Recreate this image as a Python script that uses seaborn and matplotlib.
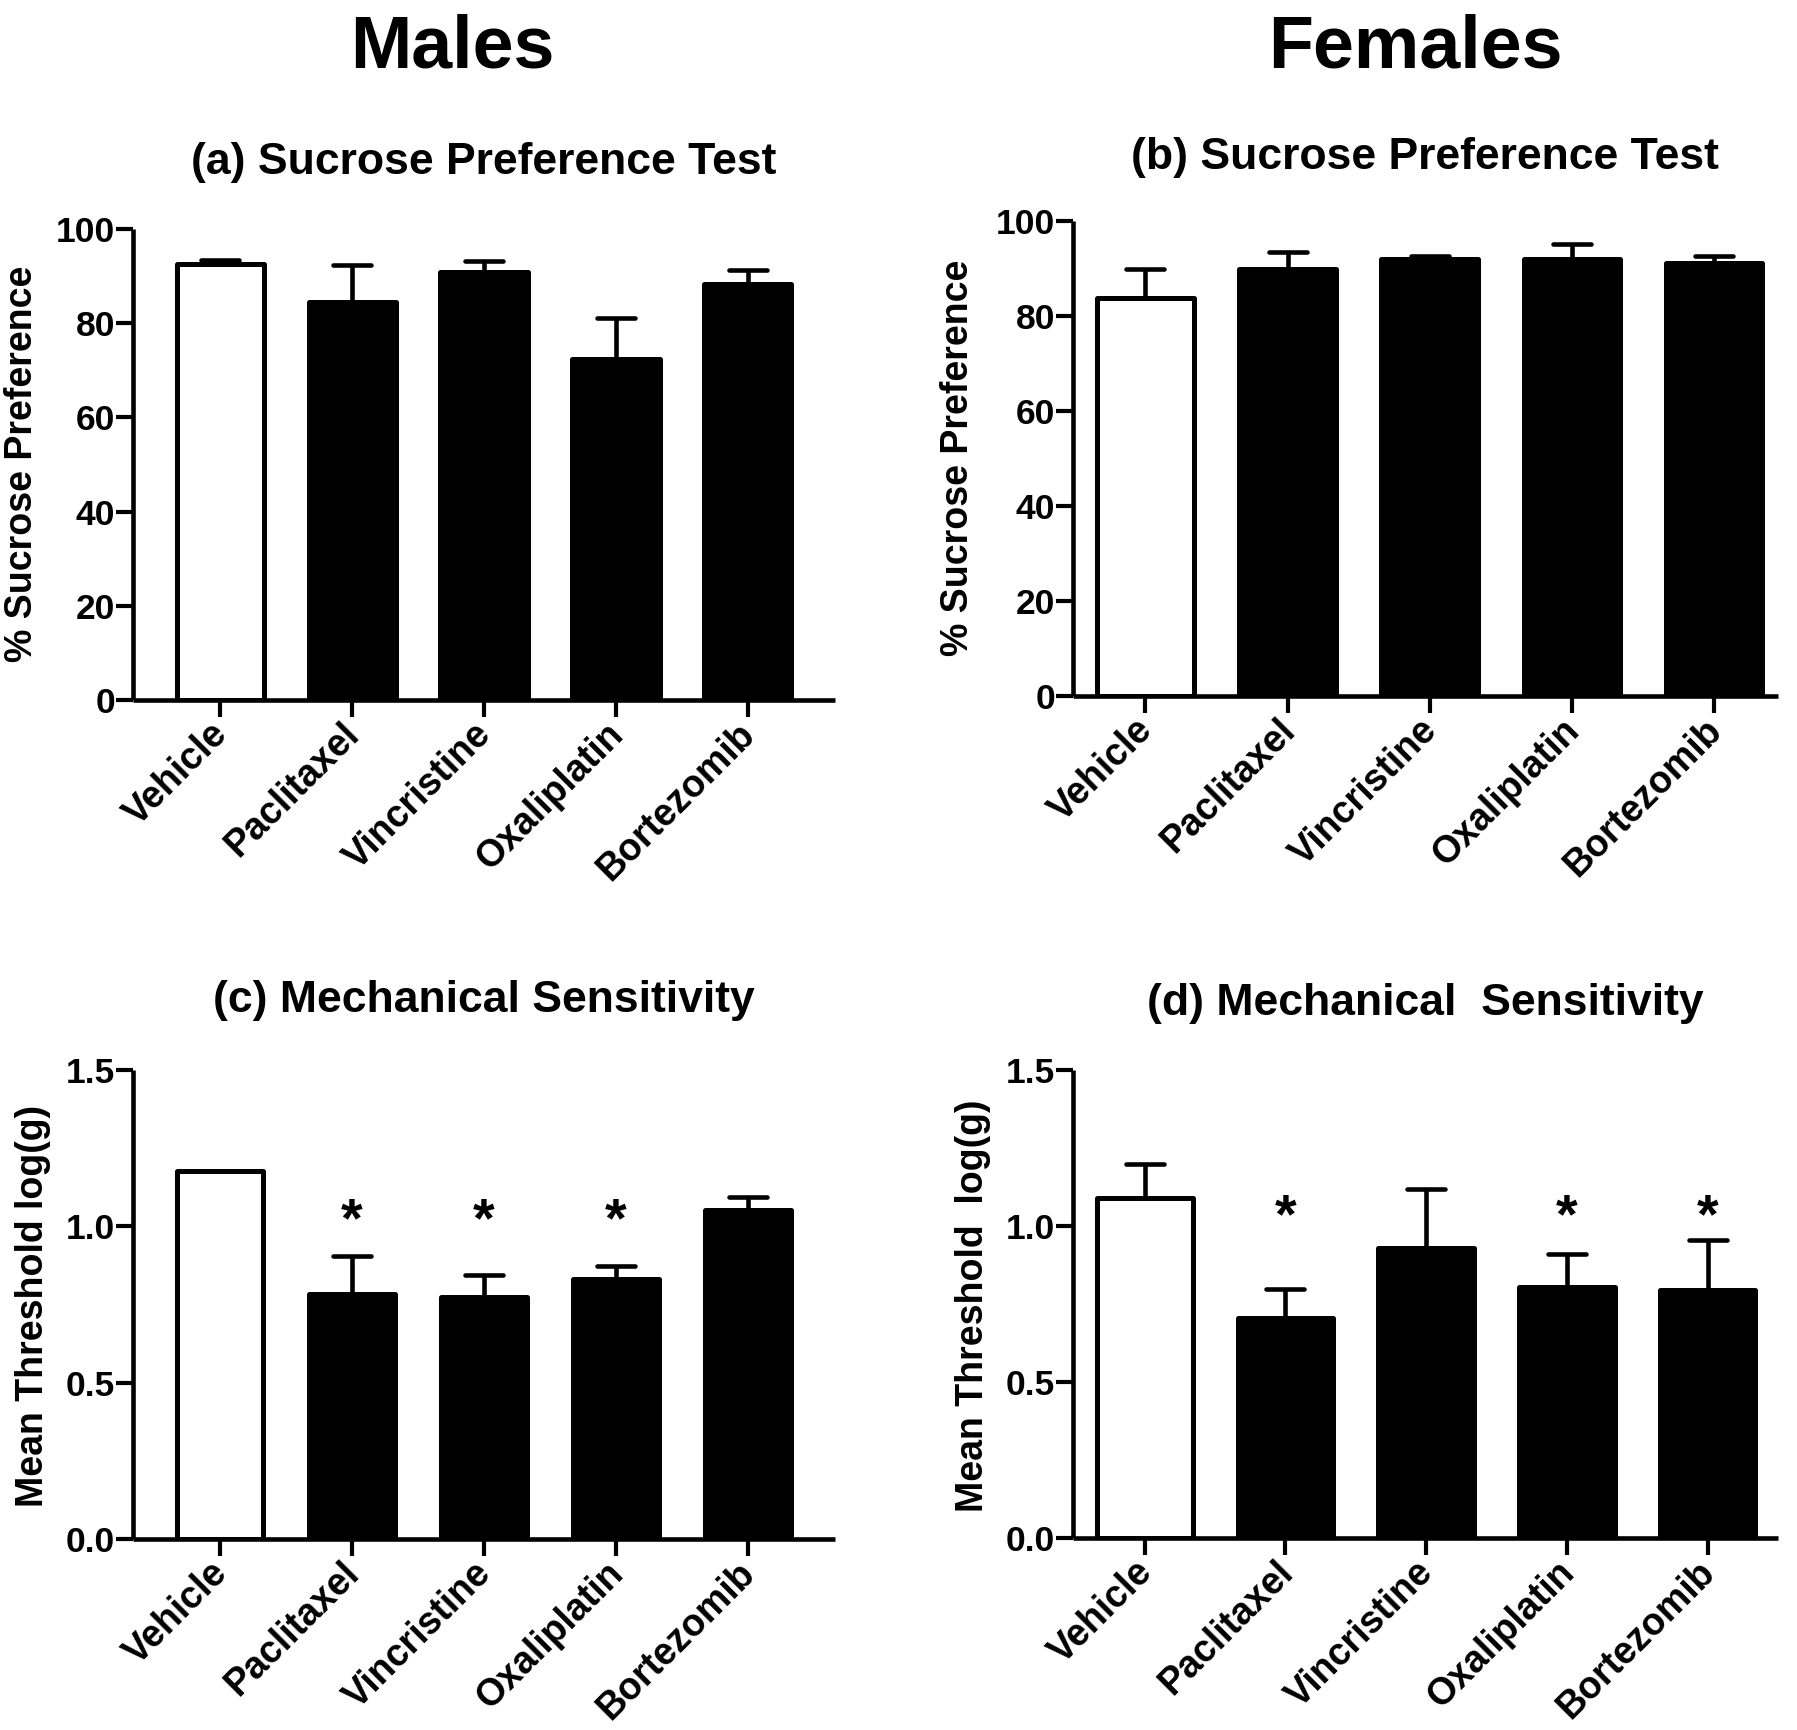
import numpy as np
import pandas as pd
import matplotlib
matplotlib.use("Agg")
import matplotlib.pyplot as plt
import seaborn as sns
from matplotlib.markers import MarkerStyle
from matplotlib.transforms import ScaledTranslation

sns.set_theme(style="ticks")
plt.rcParams["font.family"] = ["Liberation Sans", "DejaVu Sans"]
plt.rcParams["font.weight"] = "bold"
for key in ("text.color", "axes.labelcolor", "xtick.color", "ytick.color", "axes.edgecolor"):
    plt.rcParams[key] = "black"

# ---------------- data ----------------
treatments = ["Vehicle", "Paclitaxel", "Vincristine", "Oxaliplatin", "Bortezomib"]

male_sucrose_mean = [92.6, 84.4, 90.9, 72.5, 88.4]
male_sucrose_sem = [0.9, 7.9, 2.3, 8.7, 3.0]

female_sucrose_mean = [83.7, 89.8, 91.9, 92.0, 91.2]
female_sucrose_sem = [6.1, 3.7, 0.8, 3.1, 1.5]

male_mech_mean = [1.178, 0.784, 0.773, 0.830, 1.051]
male_mech_sem = [0.0, 0.120, 0.070, 0.042, 0.044]
male_mech_sig = [False, True, True, True, False]
male_star_y = 1.059

female_mech_mean = [1.090, 0.704, 0.931, 0.803, 0.796]
female_mech_sem = [0.110, 0.094, 0.186, 0.108, 0.158]
female_mech_sig = [False, True, False, True, True]
female_star_y = 1.07

sucrose_ticks = [0, 20, 40, 60, 80, 100]
mech_ticks = [0.0, 0.5, 1.0, 1.5]

bar_colors = {"Vehicle": "white", "Paclitaxel": "black", "Vincristine": "black",
              "Oxaliplatin": "black", "Bortezomib": "black"}

# ---------------- figure ----------------
W, H = 1797, 1730
fig = plt.figure(figsize=(W / 100, H / 100), dpi=100)


def px_axes(left, right, top, bottom):
    return fig.add_axes([left / W, 1 - bottom / H, (right - left) / W, (bottom - top) / H])


def panel(ax, mean, sem, ticks, ticklabels, xlim, width, sig=None, star_y=None):
    df = pd.DataFrame({"Treatment": treatments, "Mean": mean})
    sns.barplot(data=df, x="Treatment", y="Mean", hue="Treatment", palette=bar_colors,
                edgecolor="black", linewidth=3.6, width=width, errorbar=None,
                legend=False, saturation=1, ax=ax)
    for p in ax.patches:
        p.set_joinstyle("round")
    x = np.arange(len(treatments))
    eb = ax.errorbar(x, mean, yerr=[np.zeros(len(sem)), sem], fmt="none",
                     ecolor="black", elinewidth=3.3, capsize=13.7, capthick=3.3, zorder=3)
    for cap in eb[1]:
        cap.set_marker(MarkerStyle("_", capstyle="round"))
    if sig is not None:
        star_off = ax.transData + ScaledTranslation(0, -0.14, fig.dpi_scale_trans)
        for xi, s in zip(x, sig):
            if s:
                ax.text(xi, star_y, "*", ha="center", va="center", fontsize=40,
                        fontweight="bold", color="black", transform=star_off)
    sns.despine(ax=ax)
    for sp in ("left", "bottom"):
        ax.spines[sp].set_linewidth(3.3)
        ax.spines[sp].set_capstyle("butt")
    ax.set_ylim(ticks[0], ticks[-1])
    ax.set_xlim(*xlim)
    ax.set_yticks(ticks)
    ax.set_yticklabels(ticklabels, fontsize=25.5, fontweight="bold")
    ax.set_xticks(x)
    ax.set_xticklabels(treatments, rotation=45, ha="right", va="center",
                       rotation_mode="anchor", fontsize=27, fontweight="bold")
    ax.tick_params(axis="both", width=3.0, length=12, pad=1, color="black")
    ax.tick_params(axis="x", pad=0)
    ax.set_xlabel("")
    ax.set_ylabel("")
    off = ScaledTranslation(0.02, -0.12, fig.dpi_scale_trans)
    for lab in ax.get_xticklabels():
        lab.set_transform(lab.get_transform() + off)


ax_a = px_axes(133, 835, 229, 700)
ax_b = px_axes(1073, 1778, 221, 696)
ax_c = px_axes(133, 835, 1070, 1539)
ax_d = px_axes(1073, 1778, 1070, 1538)

suc_labels = [str(t) for t in sucrose_ticks]
mech_labels = [f"{t:.1f}" for t in mech_ticks]

panel(ax_a, male_sucrose_mean, male_sucrose_sem, sucrose_ticks, suc_labels, (-0.66, 4.66), 0.66)
panel(ax_b, female_sucrose_mean, female_sucrose_sem, sucrose_ticks, suc_labels, (-0.51, 4.45), 0.68)
panel(ax_c, male_mech_mean, male_mech_sem, mech_ticks, mech_labels, (-0.66, 4.66), 0.65,
      male_mech_sig, male_star_y)
panel(ax_d, female_mech_mean, female_mech_sem, mech_ticks, mech_labels, (-0.51, 4.50), 0.68,
      female_mech_sig, female_star_y)

# headers
fig.text(452 / W, 1 - 68 / H, "Males", ha="center", va="baseline", fontsize=53, fontweight="bold")
fig.text(1415 / W, 1 - 68 / H, "Females", ha="center", va="baseline", fontsize=53, fontweight="bold")

# panel titles
fig.text(484 / W, 1 - 174 / H, "(a) Sucrose Preference Test", ha="center", va="baseline",
         fontsize=32, fontweight="bold")
fig.text(1425 / W, 1 - 169 / H, "(b) Sucrose Preference Test", ha="center", va="baseline",
         fontsize=32, fontweight="bold")
fig.text(484 / W, 1 - 1012 / H, "(c) Mechanical Sensitivity", ha="center", va="baseline",
         fontsize=32, fontweight="bold")
fig.text(1425 / W, 1 - 1015 / H, "(d) Mechanical  Sensitivity", ha="center", va="baseline",
         fontsize=32, fontweight="bold")

# y labels
fig.text(22 / W, 1 - 464 / H, "% Sucrose Preference", rotation=90, ha="center", va="center",
         fontsize=27, fontweight="bold")
fig.text(958 / W, 1 - 458 / H, "% Sucrose Preference", rotation=90, ha="center", va="center",
         fontsize=27, fontweight="bold")
fig.text(33 / W, 1 - 1306 / H, "Mean Threshold log(g)", rotation=90, ha="center", va="center",
         fontsize=27, fontweight="bold")
fig.text(973 / W, 1 - 1306 / H, "Mean Threshold  log(g)", rotation=90, ha="center", va="center",
         fontsize=27, fontweight="bold")

fig.savefig("out.png", dpi=100, facecolor="white")
